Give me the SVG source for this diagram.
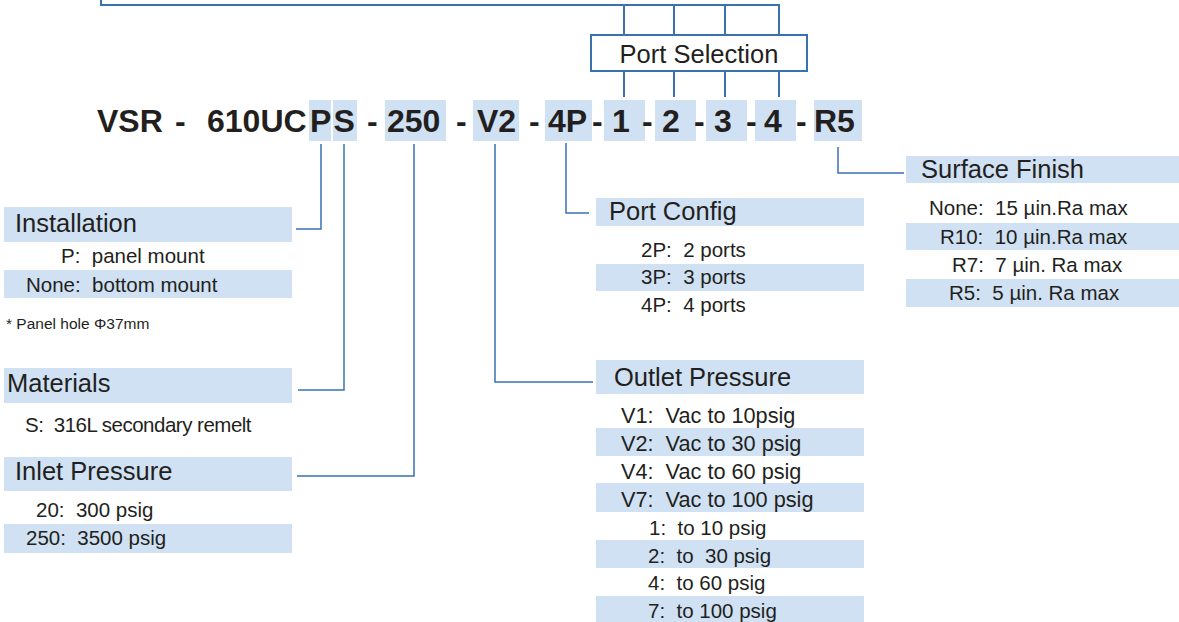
<svg xmlns="http://www.w3.org/2000/svg" width="1179" height="622" viewBox="0 0 1179 622" xml:space="preserve">
<style>
text{white-space:pre}
.bar{fill:#cfe1f2}
.ln{fill:none;stroke:#3a72b0;stroke-width:1.5}
.ln2{fill:none;stroke:#3a72b0;stroke-width:2}
.code{font-family:"Liberation Sans",Arial,sans-serif;font-weight:bold;font-size:32px;fill:#231f20}
.hd{font-family:"Liberation Sans",Arial,sans-serif;font-size:25.5px;fill:#231f20}
.rw{font-family:"Liberation Sans",Arial,sans-serif;font-size:20.5px;fill:#231f20}
.rw2{font-family:"Liberation Sans",Arial,sans-serif;font-size:21.7px;fill:#231f20}
.fn{font-family:"Liberation Sans",Arial,sans-serif;font-size:15.5px;fill:#231f20}
</style>
<rect width="1179" height="622" fill="#ffffff"/>
<g id="connectors">
<path class="ln2" d="M101 0 V5 H779 V35 M624 5 V35 M674 5 V35 M725 5 V35"/>
<path class="ln2" d="M624 71 V97 M674 71 V97 M725 71 V97 M779 71 V97"/>
<path class="ln" d="M321 144 V229 H296"/>
<path class="ln" d="M344 144 V390 H298"/>
<path class="ln" d="M414 144 V476 H297"/>
<path class="ln" d="M495 144 V382 H593"/>
<path class="ln" d="M566 143 V213 H589"/>
<path class="ln" d="M838 147 V173 H904"/>
</g>
<g id="port-selection">
<rect x="591" y="35" width="216" height="36" fill="#ffffff" class="ln2"/>
<text class="hd" x="699" y="63" text-anchor="middle">Port Selection</text>
</g>
<g id="model-code">
<rect class="bar" x="309" y="100" width="22" height="41"/>
<rect class="bar" x="333" y="100" width="24" height="41"/>
<rect class="bar" x="385" y="100" width="61" height="41"/>
<rect class="bar" x="473" y="100" width="46" height="41"/>
<rect class="bar" x="545" y="100" width="47" height="41"/>
<rect class="bar" x="604" y="100" width="41" height="41"/>
<rect class="bar" x="655" y="100" width="41" height="41"/>
<rect class="bar" x="706" y="100" width="41" height="41"/>
<rect class="bar" x="755" y="100" width="41" height="41"/>
<rect class="bar" x="814" y="100" width="48" height="41"/>
<text class="code" y="132"><tspan x="97">VSR</tspan><tspan x="175">-</tspan><tspan x="207">610UC</tspan><tspan x="310">P</tspan><tspan x="333.5">S</tspan><tspan x="367">-</tspan><tspan x="387">250</tspan><tspan x="456">-</tspan><tspan x="477">V2</tspan><tspan x="529">-</tspan><tspan x="548">4P</tspan><tspan x="592">-</tspan><tspan x="612">1</tspan><tspan x="642">-</tspan><tspan x="662">2</tspan><tspan x="694">-</tspan><tspan x="714">3</tspan><tspan x="746">-</tspan><tspan x="764">4</tspan><tspan x="796">-</tspan><tspan x="814">R5</tspan></text>
</g>
<g id="installation">
<rect class="bar" x="4" y="207" width="288" height="35"/>
<text class="hd" x="15" y="232">Installation</text>
<text class="rw" x="61" y="263">P:  panel mount</text>
<rect class="bar" x="4" y="270" width="288" height="28"/>
<text class="rw" x="26" y="291.5">None:  bottom mount</text>
<text class="fn" x="6" y="329">* Panel hole Φ37mm</text>
</g>
<g id="materials">
<rect class="bar" x="4" y="368" width="288" height="35"/>
<text class="hd" x="7" y="392">Materials</text>
<text class="rw" x="25" y="431.5" letter-spacing="-0.5">S:  316L secondary remelt</text>
</g>
<g id="inlet-pressure">
<rect class="bar" x="4" y="457" width="288" height="34"/>
<text class="hd" x="15" y="480">Inlet Pressure</text>
<text class="rw" x="36" y="516.5">20:  300 psig</text>
<rect class="bar" x="4" y="524" width="288" height="29"/>
<text class="rw" x="26" y="545">250:  3500 psig</text>
</g>
<g id="port-config">
<rect class="bar" x="596" y="198" width="268" height="28"/>
<text class="hd" x="609" y="220">Port Config</text>
<text class="rw" x="641" y="256.5">2P:  2 ports</text>
<rect class="bar" x="596" y="264" width="268" height="27"/>
<text class="rw" x="641" y="284">3P:  3 ports</text>
<text class="rw" x="641" y="311.5">4P:  4 ports</text>
</g>
<g id="outlet-pressure">
<rect class="bar" x="596" y="360" width="268" height="34"/>
<text class="hd" x="614" y="386">Outlet Pressure</text>
<rect class="bar" x="596" y="428" width="268" height="28"/>
<rect class="bar" x="596" y="483" width="268" height="29"/>
<rect class="bar" x="596" y="540" width="268" height="28"/>
<rect class="bar" x="596" y="596" width="268" height="26"/>
<text class="rw2" x="621" y="422.5">V1:  Vac to 10psig</text>
<text class="rw2" x="621" y="450.5">V2:  Vac to 30 psig</text>
<text class="rw2" x="621" y="478.5">V4:  Vac to 60 psig</text>
<text class="rw2" x="621" y="506.5">V7:  Vac to 100 psig</text>
<text class="rw" x="649" y="534.5">1:  to 10 psig</text>
<text class="rw" x="648" y="562.5">2:  to  30 psig</text>
<text class="rw" x="648" y="590">4:  to 60 psig</text>
<text class="rw" x="648" y="618">7:  to 100 psig</text>
</g>
<g id="surface-finish">
<rect class="bar" x="906" y="156" width="273" height="27"/>
<text class="hd" x="921" y="178">Surface Finish</text>
<text class="rw" x="929" y="215">None:  15 µin.Ra max</text>
<rect class="bar" x="906" y="223" width="273" height="27"/>
<text class="rw" x="940" y="244">R10:  10 µin.Ra max</text>
<text class="rw" x="952" y="271.5">R7:  7 µin. Ra max</text>
<rect class="bar" x="906" y="279" width="273" height="28"/>
<text class="rw" x="949" y="300">R5:  5 µin. Ra max</text>
</g>
</svg>
